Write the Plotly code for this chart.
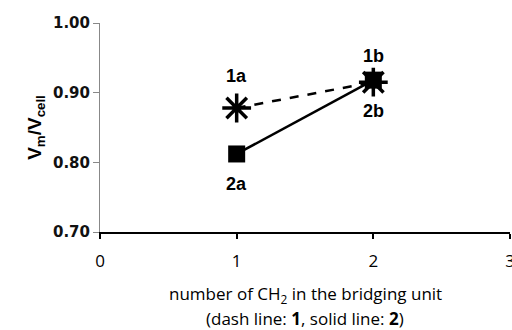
import plotly.graph_objects as go

x_vals = [1, 2]
dash_series = [0.878, 0.915]   # series 1 (dash line)
solid_series = [0.812, 0.918]  # series 2 (solid line)
labels_dash = ["1a", "1b"]
labels_solid = ["2a", "2b"]
y_ticks = [0.70, 0.80, 0.90, 1.00]
x_ticks = [0, 1, 2, 3]

fig = go.Figure()
fig.add_trace(go.Scatter(
    x=x_vals, y=solid_series, mode="lines+markers",
    line=dict(color="black", width=2.5),
    marker=dict(symbol="square", size=17, color="black"),
    showlegend=False))
fig.add_trace(go.Scatter(
    x=x_vals, y=dash_series, mode="lines+markers",
    line=dict(color="black", width=2.5, dash="dash"),
    marker=dict(symbol="asterisk-open", size=24, line=dict(color="black", width=3.5)),
    showlegend=False))

lab_font = dict(family="Liberation Sans", size=18, color="black")
fig.add_annotation(x=x_vals[0], y=dash_series[0], text="<b>%s</b>" % labels_dash[0],
                   showarrow=False, yshift=32, font=lab_font)
fig.add_annotation(x=x_vals[1], y=dash_series[1], text="<b>%s</b>" % labels_dash[1],
                   showarrow=False, yshift=26, font=lab_font)
fig.add_annotation(x=x_vals[0], y=solid_series[0], text="<b>%s</b>" % labels_solid[0],
                   showarrow=False, yshift=-30, font=lab_font)
fig.add_annotation(x=x_vals[1], y=solid_series[1], text="<b>%s</b>" % labels_solid[1],
                   showarrow=False, yshift=-31, font=lab_font)

title_font = dict(family="Open Sans", size=17, color="black")
fig.add_annotation(xref="paper", yref="paper", x=0.5, y=0, yshift=-62, yanchor="middle",
                   text="number of CH<sub>2</sub> in the bridging unit",
                   showarrow=False, font=title_font)
fig.add_annotation(xref="paper", yref="paper", x=0.5, y=0, yshift=-86, yanchor="middle",
                   text="(dash line: <b>1</b>, solid line: <b>2</b>)",
                   showarrow=False, font=title_font)

fig.update_layout(
    width=512, height=330,
    margin=dict(l=100, r=2, t=23, b=98, autoexpand=False),
    plot_bgcolor="white", paper_bgcolor="white",
    xaxis=dict(range=[0, 3], tickvals=x_ticks, ticktext=[str(v) for v in x_ticks],
               automargin=False,
               showgrid=False, zeroline=False, showline=True, linecolor="black", linewidth=2,
               ticks="outside", ticklen=5, tickcolor="black", tickwidth=2,
               ticklabelstandoff=8, ticklabeloverflow="allow",
               tickfont=dict(family="Open Sans", size=17, color="black")),
    yaxis=dict(range=[0.70, 1.00], tickvals=y_ticks, ticktext=["<b>%.2f</b>" % v for v in y_ticks],
               automargin=False,
               showgrid=False, zeroline=False, showline=True, linecolor="#888888", linewidth=1,
               ticks="outside", ticklen=6, tickcolor="#888888",
               tickfont=dict(family="DejaVu Sans", size=15, color="#111111"),
               title=dict(text="<b>V<sub>m</sub>/V<sub>cell</sub></b>",
                          font=dict(family="Liberation Sans", size=19, color="black"), standoff=6)),
)
fig.write_html("out.html")
